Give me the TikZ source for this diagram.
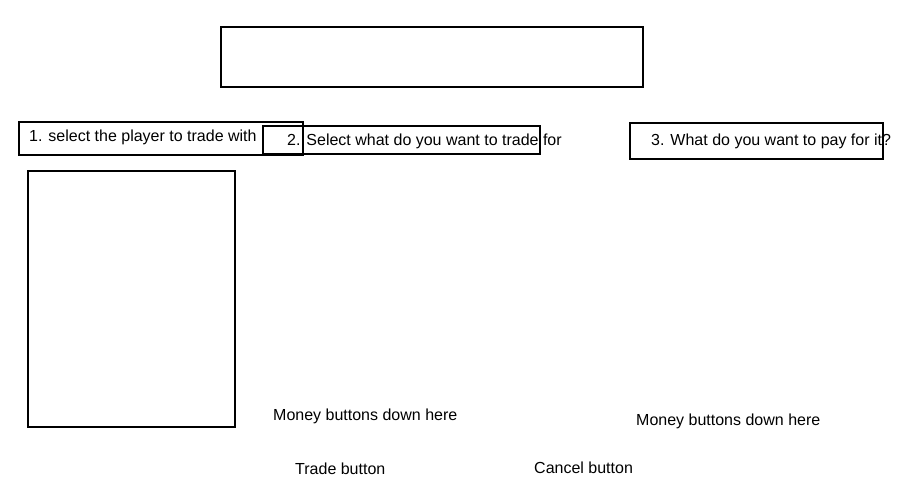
\documentclass[tikz,border=0pt]{standalone}
\usepackage{fontspec}
\setmainfont{Liberation Sans}
\usepackage{tikz}
\usetikzlibrary{positioning}

\begin{document}
\begin{tikzpicture}[x=1pt, y=-1pt,
  box/.style={draw, line width=1.6pt, inner sep=0pt, anchor=north west},
  lbl/.style={inner sep=0pt, anchor=base west, font=\fontsize{16}{19}\selectfont}]
\useasboundingbox (0,0) rectangle (900,500);

% Title area
\node[box, minimum width=422pt, minimum height=60pt] (title) at (220,26) {};

% Step boxes
\node[box, minimum width=284pt, minimum height=33pt] (pickbox) at (18,121) {};
\node[box, minimum width=277pt, minimum height=28pt] (wantbox) at (262,125) {};
\node[box, minimum width=253pt, minimum height=36pt] (paybox) at (629,122) {};
\node[lbl] (pick) at (29,142) {1. select the player to trade with};
\node[lbl] (want) at (287,146) {2. Select what do you want to trade for};
\node[lbl] (pay) at (651,146) {3. What do you want to pay for it?};

% Player list
\node[box, minimum width=207pt, minimum height=256pt] (players) at (27,170) {};

% Money buttons
\node[lbl] (moneyA) at (273,420) {Money buttons down here};
\node[lbl] (moneyB) at (636,425) {Money buttons down here};

% Trade and cancel
\node[lbl] (trade) at (295,474) {Trade button};
\node[lbl] (cancel) at (534,473) {Cancel button};
\end{tikzpicture}
\end{document}
